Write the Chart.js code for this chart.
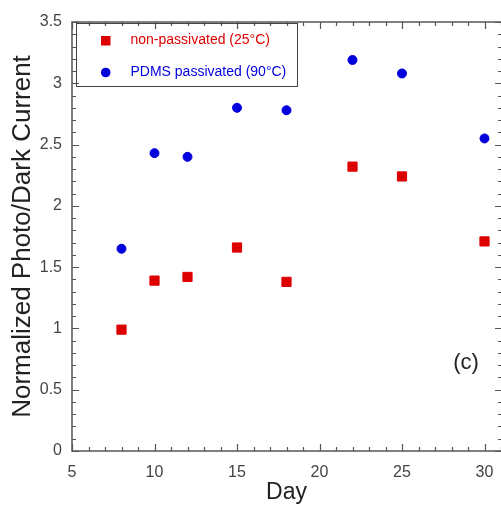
<!DOCTYPE html>
<html>
<head>
<meta charset="utf-8">
<title>Normalized Photo/Dark Current vs Day</title>
<script src="https://cdn.jsdelivr.net/npm/chart.js@4.4.1/dist/chart.umd.min.js"></script>
<style>
  html, body { margin: 0; padding: 0; background: #fff; }
  #wrap { width: 501px; height: 506px; }
</style>
</head>
<body>
<div id="wrap"><canvas id="chart" width="501" height="506"></canvas></div>
<script>
// data
const days = [8, 10, 12, 15, 18, 22, 25, 30];
const nonPassivated = [0.99, 1.39, 1.42, 1.66, 1.38, 2.32, 2.24, 1.71];
const pdmsPassivated = [1.65, 2.43, 2.40, 2.80, 2.78, 3.19, 3.08, 2.55];
const xTickLabels = [5, 10, 15, 20, 25, 30];
const yTickLabels = [0, 0.5, 1, 1.5, 2, 2.5, 3, 3.5];

const FONT = "'Liberation Sans', Arial, Helvetica, sans-serif";
const RED = '#dd0000';
const BLUE = '#0000dd';
const AXIS = '#555';

const toPoints = (ys) => days.map((d, i) => ({ x: d, y: ys[i] }));

// frame with inward major/minor ticks, legend box and panel tag
const framePlugin = {
  id: 'frame',
  afterDraw(chart) {
    const { ctx, chartArea: a, scales: { x, y } } = chart;
    ctx.save();
    ctx.strokeStyle = AXIS;
    ctx.lineWidth = 1.5;
    // right edge of the box falls just outside the picture, as in the original
    ctx.strokeRect(a.left, a.top, a.right - a.left + 2, a.bottom - a.top);

    ctx.lineWidth = 1.2;
    ctx.beginPath();
    for (let v = x.min; v <= x.max + 1e-6; v += 1) {
      const px = Math.round(x.getPixelForValue(v)) + 0.5;
      const len = Math.abs(v % 5) < 1e-6 ? 7 : 4;
      ctx.moveTo(px, a.bottom); ctx.lineTo(px, a.bottom - len);
      ctx.moveTo(px, a.top); ctx.lineTo(px, a.top + len);
    }
    for (let i = 0; i <= Math.round(y.max * 10); i++) {
      const v = i / 10;
      const py = Math.round(y.getPixelForValue(v)) + 0.5;
      const len = i % 5 === 0 ? 7 : 4;
      ctx.moveTo(a.left, py); ctx.lineTo(a.left + len, py);
      ctx.moveTo(a.right + 1, py); ctx.lineTo(a.right + 1 - len, py);
    }
    ctx.stroke();

    // legend
    ctx.strokeStyle = '#444';
    ctx.lineWidth = 1;
    ctx.strokeRect(76.5, 23.5, 221, 63);
    ctx.font = '14px ' + FONT;
    ctx.textBaseline = 'middle';
    chart.data.datasets.forEach((ds, i) => {
      const cy = 40.5 + i * 32;
      ctx.fillStyle = ds.backgroundColor;
      if (ds.pointStyle === 'rect') {
        ctx.fillRect(101, cy - 4.5, 9.5, 9.5);
      } else {
        ctx.beginPath();
        ctx.arc(105.7, cy, 4.8, 0, Math.PI * 2);
        ctx.fill();
      }
      ctx.fillText(ds.label, 130.5, cy);
    });

    ctx.fillStyle = '#222';
    ctx.font = '22px ' + FONT;
    ctx.textAlign = 'center';
    ctx.fillText('(c)', 466, 363);
    ctx.restore();
  }
};

new Chart(document.getElementById('chart'), {
  type: 'scatter',
  data: {
    datasets: [
      {
        label: 'non-passivated (25°C)',
        data: toPoints(nonPassivated),
        pointStyle: 'rect',
        pointRadius: 6.5,
        borderWidth: 1,
        backgroundColor: RED,
        borderColor: RED
      },
      {
        label: 'PDMS passivated (90°C)',
        data: toPoints(pdmsPassivated),
        pointStyle: 'circle',
        pointRadius: 4.5,
        borderWidth: 1,
        backgroundColor: BLUE,
        borderColor: BLUE
      }
    ]
  },
  options: {
    responsive: false,
    animation: false,
    devicePixelRatio: 1,
    layout: { autoPadding: false, padding: { top: 22, left: 0, right: 0, bottom: 0 } },
    plugins: {
      legend: { display: false },
      tooltip: { enabled: false }
    },
    scales: {
      x: {
        type: 'linear',
        min: 5,
        max: 31,
        afterBuildTicks: (s) => { s.ticks = xTickLabels.map(v => ({ value: v })); },
        afterFit: (s) => { s.height = 55; s.paddingLeft = 0; s.paddingRight = 0; },
        grid: { display: false, drawTicks: false },
        border: { display: false },
        ticks: {
          padding: 12,
          color: '#444',
          font: { family: FONT, size: 16 },
          callback: (v) => String(v)
        },
        title: {
          display: true,
          text: 'Day',
          color: '#222',
          font: { family: FONT, size: 23 },
          padding: { top: 0, bottom: 0 }
        }
      },
      y: {
        type: 'linear',
        min: 0,
        max: 3.5,
        afterBuildTicks: (s) => { s.ticks = yTickLabels.map(v => ({ value: v })); },
        afterFit: (s) => { s.width = 72; s.paddingTop = 0; s.paddingBottom = 0; },
        grid: { display: false, drawTicks: false },
        border: { display: false },
        ticks: {
          padding: 10,
          color: '#444',
          font: { family: FONT, size: 16 },
          callback: (v) => String(v)
        },
        title: {
          display: true,
          text: 'Normalized Photo/Dark Current',
          color: '#222',
          font: { family: FONT, size: 26 },
          padding: { top: 7, bottom: 0 }
        }
      }
    }
  },
  plugins: [framePlugin]
});
</script>
</body>
</html>
